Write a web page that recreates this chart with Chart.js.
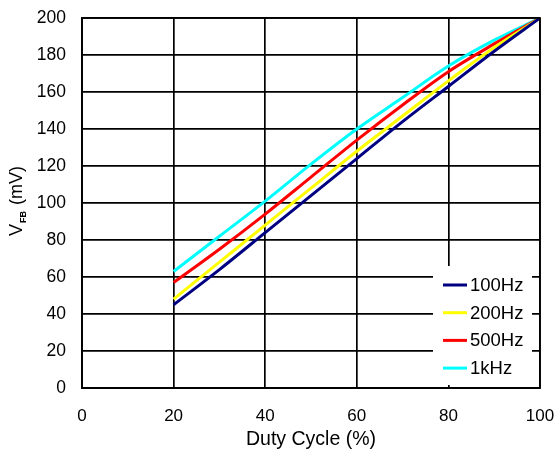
<!DOCTYPE html>
<html>
<head>
<meta charset="utf-8">
<script src="https://cdn.jsdelivr.net/npm/chart.js@4.4.1/dist/chart.umd.min.js"></script>
<style>
html,body{margin:0;padding:0;background:#fff;}
#wrap{width:557px;height:453px;position:relative;}
</style>
</head>
<body>
<div id="wrap"><canvas id="c" width="557" height="453"></canvas></div>
<script>
const dutyCycle = [20, 30, 40, 50, 60, 70, 80, 90, 100];
const v100Hz = [45, 64, 84, 104, 124, 144, 163, 182, 200];
const v200Hz = [48, 68, 88, 108, 128, 147, 166, 184, 200];
const v500Hz = [57, 75, 94, 114, 134, 153, 171, 186, 200];
const v1kHz  = [63, 82, 101, 121, 140, 157, 174, 188, 200];
const seriesLabels = ['100Hz', '200Hz', '500Hz', '1kHz'];
const seriesColors = ['#000080', '#FFFF00', '#FF0000', '#00FFFF'];
const xTitle = 'Duty Cycle (%)';

const FONT = '"Liberation Sans", Arial, sans-serif';
const toPts = arr => arr.map((v, i) => ({x: dutyCycle[i], y: v}));

const titlesAndLegend = {
  id: 'titlesAndLegend',
  afterDatasetsDraw(chart) {
    const ctx = chart.ctx;
    const a = chart.chartArea;
    ctx.save();
    const bx = a.right - 107, by = a.bottom - 122, bw = 99, bh = 119;
    ctx.fillStyle = '#fff';
    ctx.fillRect(bx, by, bw, bh);
    ctx.font = '18.5px ' + FONT;
    ctx.textBaseline = 'middle';
    ctx.textAlign = 'left';
    chart.data.datasets.forEach((ds, i) => {
      const y = by + 19 + i * 27.7;
      ctx.strokeStyle = ds.borderColor;
      ctx.lineWidth = 3;
      ctx.beginPath();
      ctx.moveTo(bx + 10, y);
      ctx.lineTo(bx + 34, y);
      ctx.stroke();
      ctx.fillStyle = '#000';
      ctx.fillText(ds.label, bx + 37, y + 1);
    });
    ctx.textAlign = 'center';
    ctx.font = '19.5px ' + FONT;
    ctx.fillText(xTitle, (a.left + a.right) / 2, 440);
    ctx.translate(17, 201);
    ctx.rotate(-Math.PI / 2);
    const main1 = 'V', sub = 'FB', main2 = ' (mV)';
    ctx.font = '18px ' + FONT;
    const w1 = ctx.measureText(main1).width;
    const w3 = ctx.measureText(main2).width;
    ctx.font = 'bold 9px ' + FONT;
    const w2 = ctx.measureText(sub).width + 2;
    const total = w1 + w2 + w3;
    let x = -total / 2;
    ctx.textAlign = 'left';
    ctx.font = '18px ' + FONT;
    ctx.fillText(main1, x, 0);
    x += w1;
    ctx.font = 'bold 9px ' + FONT;
    ctx.fillText(sub, x + 1, 7);
    x += w2;
    ctx.font = '18px ' + FONT;
    ctx.fillText(main2, x, 0);
    ctx.restore();
  }
};

new Chart(document.getElementById('c'), {
  type: 'line',
  data: {
    datasets: [
      {label: seriesLabels[0], data: toPts(v100Hz), borderColor: seriesColors[0]},
      {label: seriesLabels[1], data: toPts(v200Hz), borderColor: seriesColors[1]},
      {label: seriesLabels[2], data: toPts(v500Hz), borderColor: seriesColors[2]},
      {label: seriesLabels[3], data: toPts(v1kHz), borderColor: seriesColors[3]}
    ].map(d => Object.assign(d, {borderWidth: 3, pointRadius: 0, tension: 0.3, cubicInterpolationMode: 'monotone', fill: false}))
  },
  options: {
    responsive: false,
    animation: false,
    layout: {padding: {top: 18, right: 17, left: 0, bottom: 0}},
    plugins: {legend: {display: false}, tooltip: {enabled: false}},
    scales: {
      x: {
        type: 'linear', min: 0, max: 100,
        ticks: {stepSize: 20, color: '#000', font: {family: FONT, size: 17}, padding: 18},
        grid: {color: '#000', lineWidth: 1.7, drawTicks: false},
        border: {color: '#000', width: 1.7},
        afterFit(s) { s.height = 65; s.paddingLeft = 0; s.paddingRight = 0; }
      },
      y: {
        min: 0, max: 200,
        ticks: {stepSize: 20, color: '#000', font: {family: FONT, size: 17.5}, padding: 16},
        grid: {color: '#000', lineWidth: 1.7, drawTicks: false},
        border: {color: '#000', width: 1.7},
        afterFit(s) { s.width = 82; s.paddingTop = 0; s.paddingBottom = 0; }
      }
    }
  },
  plugins: [titlesAndLegend, {
    id: 'rightBorder',
    afterDraw(chart) {
      const a = chart.chartArea, ctx = chart.ctx;
      ctx.save();
      ctx.strokeStyle = '#000';
      ctx.lineWidth = 1.7;
      ctx.strokeRect(a.left, a.top, a.right - a.left, a.bottom - a.top);
      ctx.restore();
    }
  }]
});
</script>
</body>
</html>
